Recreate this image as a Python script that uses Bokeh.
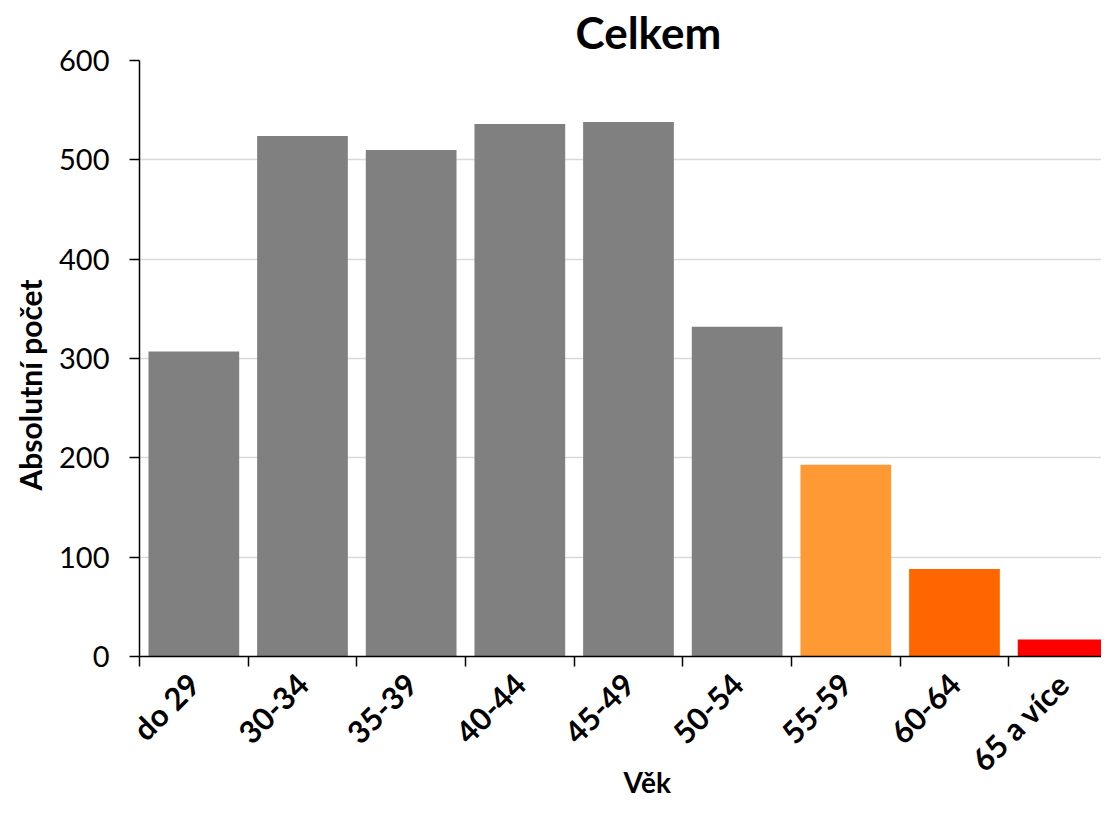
import math
from bokeh.plotting import figure
from bokeh.models import Range1d, FixedTicker, ColumnDataSource, Title
from bokeh.embed import file_html
from bokeh.resources import INLINE

categories = ["do 29", "30-34", "35-39", "40-44", "45-49", "50-54", "55-59", "60-64", "65 a více"]
values = [307, 524, 510, 536, 538, 332, 193, 88, 17]
colors = ["#808080", "#808080", "#808080", "#808080", "#808080", "#808080", "#ff9933", "#ff6600", "#ff0000"]
y_ticks = [0, 100, 200, 300, 400, 500, 600]

FONT = "Lato"

centers = [i + 0.5 for i in range(len(categories))]
bounds = list(range(len(categories) + 1))
src = ColumnDataSource(dict(x=centers, top=values, color=colors, cat=categories))

p = figure(width=1101, height=802, output_backend="svg", toolbar_location=None,
           x_range=Range1d(0, 8.853), y_range=Range1d(0, 600),
           min_border_left=136, min_border_right=0, min_border_top=56, min_border_bottom=146)
p.outline_line_color = None
p.background_fill_color = "white"
p.border_fill_color = "white"

p.vbar(x="x", top="top", width=0.835, color="color", source=src, line_color=None)

# title
p.title.text = "Celkem"
p.title.text_font = FONT
p.title.text_font_size = "44px"
p.title.text_font_style = "bold"
p.title.text_color = "black"
p.title.align = "left"
p.title.offset = 436
p.title.standoff = 6

# y axis
yax = p.yaxis[0]
yax.ticker = FixedTicker(ticks=y_ticks, minor_ticks=[])
yax.major_tick_out = 10
yax.major_tick_in = 0
yax.major_tick_line_color = "black"
yax.major_tick_line_width = 1.5
yax.axis_line_color = "black"
yax.axis_line_width = 1.5
yax.major_label_text_font = FONT
yax.major_label_text_font_size = "29px"
yax.major_label_text_color = "black"
yax.major_label_standoff = 20

# x axis
xax = p.xaxis[0]
xax.ticker = FixedTicker(ticks=centers, minor_ticks=bounds)
xax.major_tick_line_color = None
xax.minor_tick_in = 0
xax.minor_tick_out = 10
xax.minor_tick_line_color = "black"
xax.minor_tick_line_width = 1.5
xax.axis_line_color = "black"
xax.axis_line_width = 1.5
xax.major_label_overrides = {c: n for c, n in zip(centers, categories)}
xax.major_label_orientation = math.pi / 4
xax.major_label_text_font = FONT
xax.major_label_text_font_size = "31px"
xax.major_label_text_font_style = "bold"
xax.major_label_text_color = "black"
xax.major_label_text_line_height = 1.0
xax.major_label_standoff = 12

p.xgrid.grid_line_color = None
p.ygrid.ticker = FixedTicker(ticks=y_ticks)
p.ygrid.grid_line_color = "#d9d9d9"
p.ygrid.grid_line_width = 1.5

xlab = Title(text="Věk", text_font=FONT, text_font_size="28px", text_font_style="bold",
             text_color="black", align="left", offset=484, standoff=-60, vertical_align="top")
p.add_layout(xlab, "below")
ylab = Title(text="Absolutní počet", text_font=FONT, text_font_size="30px", text_font_style="bold",
             text_color="black", align="left", offset=166, standoff=18)
p.add_layout(ylab, "left")

open("out.html", "w").write(file_html(p, INLINE))
